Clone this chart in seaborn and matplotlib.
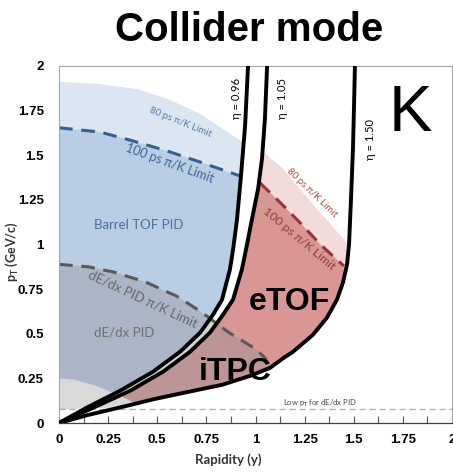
import numpy as np
import matplotlib
matplotlib.use("Agg")
import matplotlib.pyplot as plt
from matplotlib.patches import Polygon
import seaborn as sns

# ---- acceptance curves (rapidity y, pT in GeV/c) ----
eta096_rap = [0.0, 0.148, 0.310, 0.478, 0.616, 0.718, 0.784, 0.830, 0.870, 0.886, 0.906, 0.926, 0.947, 0.962]
eta096_pt = [0.0, 0.090, 0.180, 0.287, 0.399, 0.506, 0.607, 0.692, 0.861, 0.973, 1.142, 1.384, 1.665, 2.0]

eta105_rap = [0.0, 0.183, 0.361, 0.529, 0.667, 0.768, 0.835, 0.886, 0.931, 0.957, 0.982, 1.013, 1.033, 1.048, 1.059]
eta105_pt = [0.0, 0.090, 0.180, 0.287, 0.399, 0.506, 0.607, 0.692, 0.861, 1.001, 1.142, 1.310, 1.479, 1.704, 2.0]

eta150_rap = [0.0, 0.148, 0.321, 0.489, 0.656, 0.830, 0.972, 1.074, 1.142, 1.191, 1.293, 1.364, 1.415,
              1.445, 1.466, 1.476, 1.486, 1.496, 1.501, 1.506]
eta150_pt = [0.0, 0.045, 0.090, 0.135, 0.174, 0.214, 0.264, 0.309, 0.364, 0.399, 0.495, 0.591, 0.692,
             0.787, 0.889, 1.001, 1.254, 1.535, 1.760, 2.0]

# ---- PID limits ----
tof80_rap = [0.0, 0.2, 0.4, 0.55, 0.718, 0.886, 0.935]
tof80_pt = [1.912, 1.90, 1.87, 1.817, 1.732, 1.609, 1.575]
tof100_rap = [0.0, 0.209, 0.377, 0.55, 0.718, 0.921]
tof100_pt = [1.654, 1.63, 1.58, 1.524, 1.462, 1.384]

etof80_rap = [1.031, 1.142, 1.226, 1.345, 1.464]
etof80_pt = [1.526, 1.423, 1.31, 1.16, 1.011]
etof100_rap = [1.023, 1.125, 1.226, 1.33, 1.45]
etof100_pt = [1.345, 1.236, 1.123, 1.0, 0.88]

dedx_rap = [0.0, 0.15, 0.28, 0.44, 0.6, 0.72, 0.86, 1.006, 1.057]
dedx_pt = [0.889, 0.875, 0.845, 0.79, 0.71, 0.625, 0.51, 0.411, 0.354]

lowgrey_rap = [0.0, 0.081, 0.2, 0.319, 0.387]
lowgrey_pt = [0.251, 0.242, 0.204, 0.148, 0.111]

low_pt_cut = 0.079

tick_values = [0, 0.25, 0.5, 0.75, 1, 1.25, 1.5, 1.75, 2]
tick_labels = ["0", "0.25", "0.5", "0.75", "1", "1.25", "1.5", "1.75", "2"]

# ---- style ----
sns.set_theme(style="white")
plt.rcParams["font.family"] = ["Liberation Sans", "DejaVu Sans"]
plt.rcParams["text.color"] = "black"
plt.rcParams["mathtext.fontset"] = "custom"
plt.rcParams["mathtext.rm"] = "Lato:bold"
plt.rcParams["mathtext.it"] = "Lato:italic"
plt.rcParams["mathtext.bf"] = "Lato:bold"

CAL = ["Lato", "DejaVu Sans"]

fig = plt.figure(figsize=(4.53, 4.72), dpi=100)
ax = fig.add_axes([59 / 453, 1 - 423 / 472, (452 - 59) / 453, (423 - 66) / 472])
ax.set_xlim(0, 2)
ax.set_ylim(0, 2)


def band(left_x, left_y, right_x, right_y, top_x, top_y, ymin):
    """Polygon bounded by a left curve, a right curve and a top curve."""
    lx, ly = np.asarray(left_x), np.asarray(left_y)
    rx, ry = np.asarray(right_x), np.asarray(right_y)
    lm = (ly >= ymin) & (ly < top_y[0])
    rm = (ry >= ymin) & (ry < top_y[-1])
    xs = np.concatenate([lx[lm], top_x, rx[rm][::-1]])
    ys = np.concatenate([ly[lm], top_y, ry[rm][::-1]])
    return np.column_stack([xs, ys])


axis_x = [0.0, 0.0]
axis_y = [low_pt_cut, 2.0]

regions = [
    (band(axis_x, axis_y, eta096_rap, eta096_pt, tof80_rap, tof80_pt, low_pt_cut), "#dce6f2", 1.0, 1.0),
    (band(axis_x, axis_y, eta096_rap, eta096_pt, tof100_rap, tof100_pt, low_pt_cut), "#b9cde5", 1.0, 1.1),
    (band(eta105_rap, eta105_pt, eta150_rap, eta150_pt, etof80_rap, etof80_pt, low_pt_cut), "#f2dcdb", 1.0, 1.0),
    (band(eta105_rap, eta105_pt, eta150_rap, eta150_pt, etof100_rap, etof100_pt, low_pt_cut), "#d99694", 1.0, 1.1),
    (band(axis_x, axis_y, eta150_rap, eta150_pt, dedx_rap, dedx_pt, low_pt_cut), "#98959a", 0.42, 1.2),
    (band(axis_x, axis_y, eta150_rap, eta150_pt, lowgrey_rap, lowgrey_pt, low_pt_cut), "#d9d9d9", 1.0, 1.3),
]
for verts, col, alpha, z in regions:
    ax.add_patch(Polygon(verts, closed=True, facecolor=col, edgecolor="none", alpha=alpha, zorder=z))

# dashed PID limits
sns.lineplot(x=tof100_rap, y=tof100_pt, sort=False, estimator=None, color="#376092", lw=2.2,
             linestyle=(0, (4.5, 2.8)), ax=ax, zorder=2)
sns.lineplot(x=etof100_rap, y=etof100_pt, sort=False, estimator=None, color="#953735", lw=2.2,
             linestyle=(0, (4.5, 2.8)), ax=ax, zorder=2)
sns.lineplot(x=dedx_rap, y=dedx_pt, sort=False, estimator=None, color="#595959", lw=2.2,
             linestyle=(0, (4.5, 2.8)), ax=ax, zorder=2)
sns.lineplot(x=[0, 2], y=[low_pt_cut, low_pt_cut], sort=False, estimator=None, color="#95b3d7", lw=0.9,
             linestyle=(0, (5, 3)), ax=ax, zorder=2)

# pseudorapidity boundaries
for ex, ey in [(eta096_rap, eta096_pt), (eta105_rap, eta105_pt), (eta150_rap, eta150_pt)]:
    sns.lineplot(x=ex, y=ey, sort=False, estimator=None, color="black", lw=2.8, ax=ax, zorder=3)

# ---- labels ----
ax.text(0.616, 1.686, "80 ps π/K Limit", rotation=-22, color="#4f7bb3", fontsize=7, family=CAL,
        ha="center", va="center", zorder=4)
ax.text(0.565, 1.457, "100 ps π/K Limit", rotation=-20, color="#3c6496", fontsize=9, family=CAL,
        ha="center", va="center", zorder=4)
ax.text(0.407, 1.108, "Barrel TOF PID", color="#4a6e9e", fontsize=9.5, family=CAL,
        ha="center", va="center", zorder=4)
ax.text(0.429, 0.697, "dE/dx PID π/K Limit", rotation=-25, color="#666666", fontsize=9.5, family=CAL,
        ha="center", va="center", zorder=4)
ax.text(0.33, 0.506, "dE/dx PID", color="#6e6e6e", fontsize=9.5, family=CAL,
        ha="center", va="center", zorder=4)
ax.text(1.289, 1.292, "80 ps π/K Limit", rotation=-44, color="#b04848", fontsize=7, family=CAL,
        ha="center", va="center", zorder=4)
ax.text(1.221, 1.029, "100 ps π/K Limit", rotation=-40, color="#963c3a", fontsize=8.8, family=CAL,
        ha="center", va="center", zorder=4)
ax.text(0.901, 1.82, "η = 0.96", rotation=90, color="black", fontsize=8, family=CAL,
        ha="center", va="center", zorder=4)
ax.text(1.138, 1.82, "η = 1.05", rotation=90, color="black", fontsize=8, family=CAL,
        ha="center", va="center", zorder=4)
ax.text(1.583, 1.588, "η = 1.50", rotation=90, color="black", fontsize=8, family=CAL,
        ha="center", va="center", zorder=4)
ax.text(1.33, 0.108, r"Low p$_\mathrm{T}$ for dE/dx PID", color="#444444", fontsize=5.5, family=CAL,
        ha="center", va="center", zorder=4)
ax.text(1.17, 0.68, "eTOF", fontsize=23, fontweight="bold", color="black",
        ha="center", va="center", zorder=4)
ax.text(0.896, 0.287, "iTPC", fontsize=23, fontweight="bold", color="black",
        ha="center", va="center", zorder=4)
ax.text(1.786, 1.732, "K", fontsize=47, color="black", ha="center", va="center", zorder=4)

fig.text(0.55, 0.936, "Collider mode", ha="center", va="center", fontsize=29, fontweight="bold",
         color="black")

# ---- axes ----
ax.set_xticks(tick_values)
ax.set_xticklabels(tick_labels, fontweight="bold", fontsize=9.5, color="black")
ax.set_xticks(np.arange(0.125, 2, 0.25), minor=True)
ax.set_yticks(tick_values)
ax.set_yticklabels(tick_labels, fontweight="bold", fontsize=9.5, color="black")
ax.tick_params(axis="x", which="both", direction="in", length=5, width=0.8, color="#595959",
               pad=8, bottom=True)
ax.tick_params(axis="y", which="both", length=0, pad=11)

ax.set_xlabel("Rapidity (y)", fontsize=9.5, color="#333333", family=CAL, fontweight="bold")
ax.xaxis.set_label_coords(0.43, -0.086)
ax.set_ylabel(r"p$_\mathrm{T}$ (GeV/c)", fontsize=9, color="#333333", family=CAL, fontweight="bold")
ax.yaxis.set_label_coords(-0.098, 0.48)

for side in ["left", "top", "right"]:
    ax.spines[side].set_color("#a6a6a6")
    ax.spines[side].set_linewidth(0.8)
ax.spines["bottom"].set_color("#404040")
ax.spines["bottom"].set_linewidth(0.9)
ax.grid(False)

fig.savefig("out.png", dpi=100)
